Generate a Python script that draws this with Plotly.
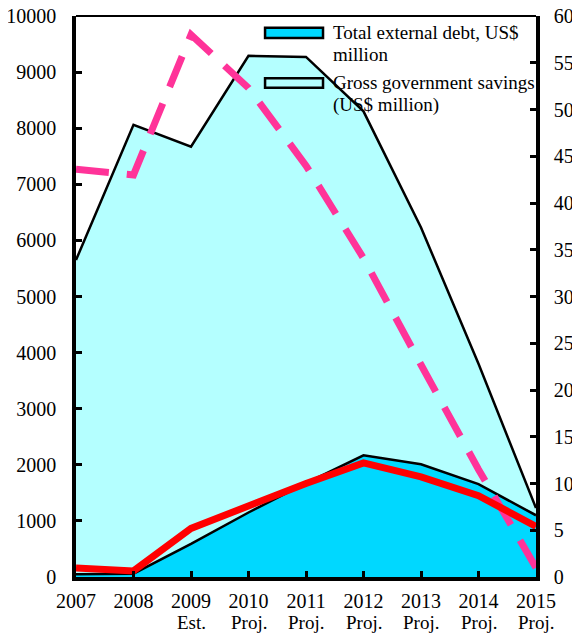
import plotly.graph_objects as go

years = ["2007", "2008", "2009", "2010", "2011", "2012", "2013", "2014", "2015"]
year_notes = ["", "", "Est.", "Proj.", "Proj.", "Proj.", "Proj.", "Proj.", "Proj."]

# Left axis (US$ million)
gross_savings = [5650, 8060, 7670, 9290, 9270, 8300, 6230, 3800, 1230]
external_debt = [50, 60, 590, 1150, 1675, 2170, 2010, 1655, 1100]

# Right axis series
red_series = [0.95, 0.65, 5.2, 7.7, 10.0, 12.2, 10.7, 8.7, 5.4]
pink_series = [43.6, 43.0, 58.0, 52.3, 44.0, 34.1, 22.7, 11.5, 1.0]

legend_labels = ["Total external debt, US$<br>million",
                 "Gross government savings<br>(US$ million)"]
LIGHT = "#B4FFFF"
DARK = "#00D8FF"

FONT = "Liberation Serif, Times New Roman, serif"

fig = go.Figure()

fig.add_trace(go.Scatter(
    x=years, y=gross_savings, name=legend_labels[1],
    mode="lines", fill="tozeroy", fillcolor=LIGHT,
    line=dict(color="black", width=2.5), showlegend=False,
))
fig.add_trace(go.Scatter(
    x=years, y=external_debt, name=legend_labels[0],
    mode="lines", fill="tozeroy", fillcolor=DARK,
    line=dict(color="black", width=2.5), showlegend=False,
))
fig.add_trace(go.Scatter(
    x=years, y=pink_series, yaxis="y2", mode="lines", showlegend=False,
    line=dict(color="#FF3399", width=7, dash="33px,18px"),
))
fig.add_trace(go.Scatter(
    x=years, y=red_series, yaxis="y2", mode="lines", showlegend=False,
    line=dict(color="#FF0000", width=7),
))

axis_common = dict(
    showline=True, linecolor="black", linewidth=3.5,
    ticks="inside", ticklen=6, tickwidth=2.5, tickcolor="black",
    showgrid=False, zeroline=False, automargin=False,
    ticklabeloverflow="allow",
    tickfont=dict(family=FONT, size=20, color="black"),
)

shapes = [dict(type="line", xref="paper", yref="paper", x0=0, x1=1, y0=1, y1=1,
               line=dict(color="black", width=2))]
annotations = []

# second row of x tick labels (Est. / Proj.)
for i, note in enumerate(year_notes):
    if note:
        annotations.append(dict(xref="x", yref="paper", x=i, y=-0.0815,
                                xanchor="center", yanchor="middle", borderpad=0,
                                showarrow=False, text=note,
                                font=dict(family=FONT, size=19, color="black")))

# custom legend (boxes with black border + text lines)
legend_boxes = [(0.961, 0.979, DARK), (0.872, 0.889, LIGHT)]
legend_line_y = [(0.9697, 0.9305), (0.8806, 0.8414)]
for label, (y0, y1, col), ys in zip(legend_labels, legend_boxes, legend_line_y):
    shapes.append(dict(type="rect", xref="paper", yref="paper",
                       x0=0.411, x1=0.537, y0=y0, y1=y1,
                       fillcolor=col, line=dict(color="black", width=2.5)))
    for line_text, yt in zip(label.split("<br>"), ys):
        annotations.append(dict(xref="paper", yref="paper", x=0.557, y=yt,
                                xanchor="left", yanchor="middle", align="left",
                                borderpad=0, showarrow=False, text=line_text,
                                font=dict(family=FONT, size=19, color="black")))

# page body has an 8px margin, so the figure is sized/offset to compensate
fig.update_layout(
    width=572, height=625,
    margin=dict(l=68, r=44, t=8, b=56),
    paper_bgcolor="white", plot_bgcolor="white",
    font=dict(family=FONT, size=20, color="black"),
    xaxis=dict(type="category", range=[0, 8], ticklabelstandoff=3, **axis_common),
    yaxis=dict(range=[0, 10000], dtick=1000, tickformat="d",
               ticklabelstandoff=12, **axis_common),
    yaxis2=dict(range=[0, 60], dtick=5, overlaying="y", side="right",
                ticklabelstandoff=10, **axis_common),
    shapes=shapes,
    annotations=annotations,
    showlegend=False,
)

fig.write_html("out.html")
